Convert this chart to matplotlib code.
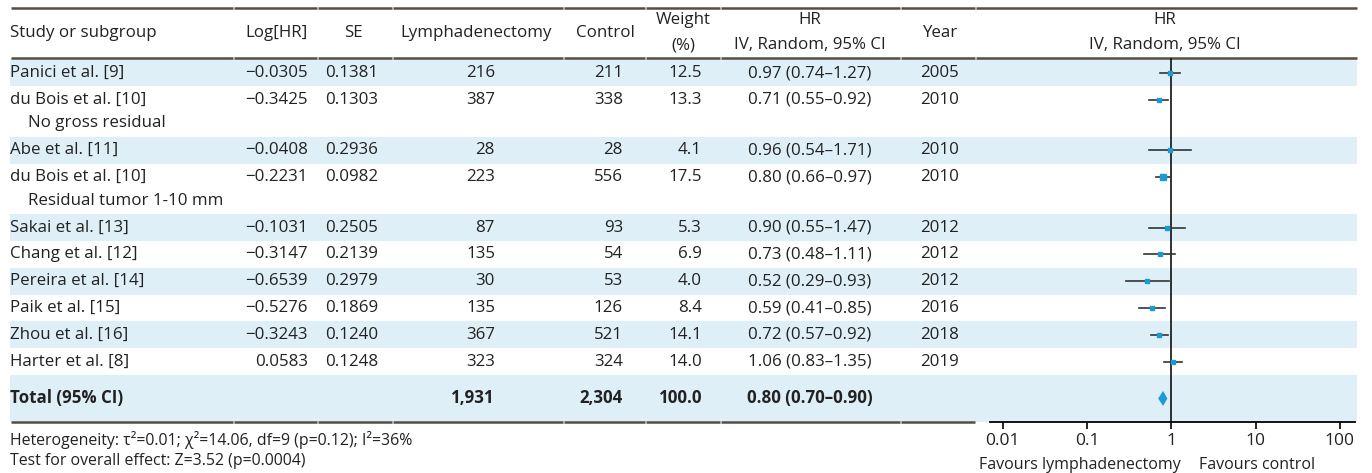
import matplotlib
matplotlib.use("Agg")
import matplotlib.pyplot as plt
from matplotlib.patches import Rectangle

plt.rcParams['font.family'] = ['Open Sans', 'DejaVu Sans']

# data
studies = ["Panici et al. [9]", "du Bois et al. [10]", "Abe et al. [11]", "du Bois et al. [10]",
           "Sakai et al. [13]", "Chang et al. [12]", "Pereira et al. [14]", "Paik et al. [15]",
           "Zhou et al. [16]", "Harter et al. [8]"]
subnotes = ["", "No gross residual", "", "Residual tumor 1-10 mm", "", "", "", "", "", ""]
log_hr = [-0.0305, -0.3425, -0.0408, -0.2231, -0.1031, -0.3147, -0.6539, -0.5276, -0.3243, 0.0583]
se = [0.1381, 0.1303, 0.2936, 0.0982, 0.2505, 0.2139, 0.2979, 0.1869, 0.1240, 0.1248]
n_lymph = [216, 387, 28, 223, 87, 135, 30, 135, 367, 323]
n_ctrl = [211, 338, 28, 556, 93, 54, 53, 126, 521, 324]
weight = [12.5, 13.3, 4.1, 17.5, 5.3, 6.9, 4.0, 8.4, 14.1, 14.0]
hr = [0.97, 0.71, 0.96, 0.80, 0.90, 0.73, 0.52, 0.59, 0.72, 1.06]
hr_lo = [0.74, 0.55, 0.54, 0.66, 0.55, 0.48, 0.29, 0.41, 0.57, 0.83]
hr_hi = [1.27, 0.92, 1.71, 0.97, 1.47, 1.11, 0.93, 0.85, 0.92, 1.35]
years = [2005, 2010, 2010, 2010, 2012, 2012, 2012, 2016, 2018, 2019]
total_lymph = 1931
total_ctrl = 2304
total_weight = 100.0
total_hr, total_lo, total_hi = 0.80, 0.70, 0.90
hetero = "Heterogeneity: τ²=0.01; χ²=14.06, df=9 (p=0.12); I²=36%"
overall = "Test for overall effect: Z=3.52 (p=0.0004)"

shade = '#dfeff8'
rule = '#574e42'
blue = '#1a9ad6'
txt = '#222222'
fs = 12.2

fig = plt.figure(figsize=(13.72, 4.73), dpi=100)
ax = fig.add_axes([0, 0, 1, 1])
ax.set_xlim(0, 1372)
ax.set_ylim(473, 0)
ax.axis('off')

# header
hy1, hy2, hyc = 20, 45, 33
ax.text(10, hyc, "Study or subgroup", fontsize=fs, va='center', color=txt)
ax.text(308, hyc, "Log[HR]", fontsize=fs, va='center', ha='right', color=txt)
ax.text(353, hyc, "SE", fontsize=fs, va='center', ha='center', color=txt)
ax.text(476, hyc, "Lymphadenectomy", fontsize=fs, va='center', ha='center', color=txt)
ax.text(635, hyc, "Control", fontsize=fs, va='center', ha='right', color=txt)
ax.text(683, hy1, "Weight", fontsize=fs, va='center', ha='center', color=txt)
ax.text(683, hy2, "(%)", fontsize=fs, va='center', ha='center', color=txt)
ax.text(810, hy1, "HR", fontsize=fs, va='center', ha='center', color=txt)
ax.text(810, hy2, "IV, Random, 95% CI", fontsize=fs, va='center', ha='center', color=txt)
ax.text(922, hyc, "Year", fontsize=fs, va='center', ha='left', color=txt)
ax.text(1165, hy1, "HR", fontsize=fs, va='center', ha='center', color=txt)
ax.text(1165, hy2, "IV, Random, 95% CI", fontsize=fs, va='center', ha='center', color=txt)

# rules, split at column borders
col_edges = [10, 233, 317, 392, 563, 645, 720, 900, 975, 1357]
for yy in [8, 58]:
    for a, b in zip(col_edges[:-1], col_edges[1:]):
        ax.plot([a + 0.5, b - 0.5], [yy, yy], color=rule, lw=1.8, solid_capstyle='butt')

# rows
single_h, double_h = 26.8, 50.5
top = 59.5
row_y = []
for i in range(len(studies)):
    h = double_h if subnotes[i] else single_h
    if i % 2 == 0:
        ax.add_patch(Rectangle((10, top), 1347, h, color=shade, lw=0, zorder=0))
    y = top + 13.5
    row_y.append(y)
    ax.text(10, y, studies[i], fontsize=fs, va='center', color=txt)
    if subnotes[i]:
        ax.text(28, y + 23.5, subnotes[i], fontsize=fs, va='center', color=txt)
    ax.text(308, y, f"{log_hr[i]:.4f}".replace('-', '\u2212'), fontsize=fs, va='center', ha='right', color=txt)
    ax.text(325, y, f"{se[i]:.4f}", fontsize=fs, va='center', ha='left', color=txt)
    ax.text(495, y, f"{n_lymph[i]}", fontsize=fs, va='center', ha='right', color=txt)
    ax.text(623, y, f"{n_ctrl[i]}", fontsize=fs, va='center', ha='right', color=txt)
    ax.text(702, y, f"{weight[i]:.1f}", fontsize=fs, va='center', ha='right', color=txt)
    ax.text(810, y, f"{hr[i]:.2f} ({hr_lo[i]:.2f}\u2013{hr_hi[i]:.2f})", fontsize=fs, va='center', ha='center', color=txt)
    ax.text(920, y, f"{years[i]}", fontsize=fs, va='center', ha='left', color=txt)
    top += h

# total row
total_h = 422 - top
ax.add_patch(Rectangle((10, top), 1347, total_h, color=shade, lw=0, zorder=0))
ty = top + total_h / 2
ax.text(10, ty, "Total (95% CI)", fontsize=fs, va='center', fontweight='bold', color=txt)
ax.text(495, ty, f"{total_lymph:,}", fontsize=fs, va='center', ha='right', fontweight='bold', color=txt)
ax.text(623, ty, f"{total_ctrl:,}", fontsize=fs, va='center', ha='right', fontweight='bold', color=txt)
ax.text(702, ty, f"{total_weight:.1f}", fontsize=fs, va='center', ha='right', fontweight='bold', color=txt)
ax.text(810, ty, f"{total_hr:.2f} ({total_lo:.2f}\u2013{total_hi:.2f})", fontsize=fs, va='center', ha='center', fontweight='bold', color=txt)
for a, b in zip(col_edges[:-2], col_edges[1:-1]):
    ax.plot([a + 0.5, b - 0.5], [422, 422], color=rule, lw=1.8, solid_capstyle='butt')

# footer
ax.text(10, 440, hetero, fontsize=11.4, va='center', color=txt)
ax.text(10, 461, overall, fontsize=11.4, va='center', color=txt)
ax.text(1080, 465, "Favours lymphadenectomy", fontsize=11.5, va='center', ha='center', color=txt)
ax.text(1257, 465, "Favours control", fontsize=11.5, va='center', ha='center', color=txt)

# forest panel
fax = fig.add_axes([990 / 1372, (473 - 422) / 473, (1355 - 990) / 1372, (422 - 58) / 473])
fax.patch.set_alpha(0)
fax.set_xscale('log')
fax.set_xlim(10 ** -2.15, 10 ** 2.18)
fax.set_ylim(422, 58)
for s in ['top', 'right', 'left']:
    fax.spines[s].set_visible(False)
fax.spines['bottom'].set_linewidth(1.3)
fax.set_yticks([])
fax.set_xticks([0.01, 0.1, 1, 10, 100])
fax.set_xticklabels(['0.01', '0.1', '1', '10', '100'], fontsize=12.5, color=txt)
fax.minorticks_off()
fax.tick_params(axis='x', length=5, width=1.2, pad=3)
fax.axvline(1, color='#111111', lw=1.2)

for i in range(len(studies)):
    fax.plot([hr_lo[i], hr_hi[i]], [row_y[i], row_y[i]], color='#333333', lw=1.2, zorder=2)
    fax.plot(hr[i], row_y[i], marker='s', ms=2.6 + 0.07 * weight[i], color=blue, mec=blue, zorder=3)

fax.fill([total_lo, total_hr, total_hi, total_hr], [ty, ty - 7.5, ty, ty + 7.5], color=blue, lw=0, zorder=3)

fig.savefig("out.png", dpi=100)
